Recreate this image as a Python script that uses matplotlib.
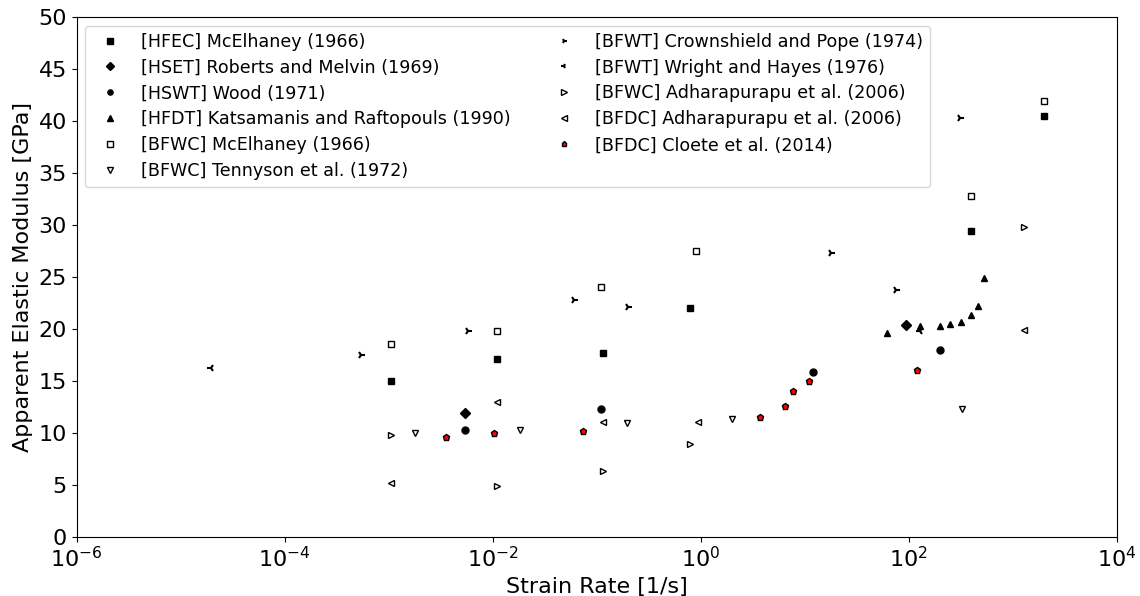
import matplotlib.pyplot as plt

# Strain rate [1/s] and apparent elastic modulus [GPa] per study
hfec_mcelhaney_rate = [1.05e-3, 1.09e-2, 0.116, 0.79, 397, 2000]
hfec_mcelhaney_E = [15.0, 17.1, 17.7, 22.0, 29.4, 40.5]

hset_roberts_rate = [5.46e-3, 94]
hset_roberts_E = [11.9, 20.4]

hswt_wood_rate = [5.46e-3, 0.109, 11.9, 200]
hswt_wood_E = [10.3, 12.3, 15.8, 18.0]

hfdt_katsamanis_rate = [62, 128, 200, 249, 318, 397, 460, 526]
hfdt_katsamanis_E = [19.6, 20.3, 20.3, 20.5, 20.7, 21.3, 22.2, 24.9]

bfwc_mcelhaney_rate = [1.05e-3, 1.09e-2, 0.109, 0.90, 397, 2000]
bfwc_mcelhaney_E = [18.5, 19.8, 24.0, 27.5, 32.8, 41.9]

bfwc_tennyson_rate = [1.79e-3, 1.83e-2, 0.194, 2.0, 323]
bfwc_tennyson_E = [10.0, 10.3, 10.9, 11.3, 12.3]

bfwt_crownshield_rate = [5.4e-4, 5.75e-3, 0.060, 0.20, 17.9, 75, 311]
bfwt_crownshield_E = [17.5, 19.8, 22.8, 22.1, 27.3, 23.7, 40.3]

bfwt_wright_rate = [1.95e-5, 128]
bfwt_wright_E = [16.2, 19.8]

bfwc_adhar_rate = [1.05e-3, 1.09e-2, 0.114, 0.78, 1294]
bfwc_adhar_E = [9.8, 4.9, 6.3, 8.9, 29.8]

bfdc_adhar_rate = [1.05e-3, 1.09e-2, 0.116, 0.95, 1294]
bfdc_adhar_E = [5.2, 13.0, 11.0, 11.0, 19.9]

bfdc_cloete_rate = [3.56e-3, 1.035e-2, 0.0743, 3.69, 6.46, 7.77, 10.9, 119]
bfdc_cloete_E = [9.6, 10.0, 10.2, 11.5, 12.6, 14.0, 15.0, 16.0]

series = [
    (hfec_mcelhaney_rate, hfec_mcelhaney_E, "[HFEC] McElhaney (1966)", "s", "black"),
    (hset_roberts_rate, hset_roberts_E, "[HSET] Roberts and Melvin (1969)", "D", "black"),
    (hswt_wood_rate, hswt_wood_E, "[HSWT] Wood (1971)", "o", "black"),
    (hfdt_katsamanis_rate, hfdt_katsamanis_E, "[HFDT] Katsamanis and Raftopouls (1990)", "^", "black"),
    (bfwc_mcelhaney_rate, bfwc_mcelhaney_E, "[BFWC] McElhaney (1966)", "s", "white"),
    (bfwc_tennyson_rate, bfwc_tennyson_E, "[BFWC] Tennyson et al. (1972)", "v", "white"),
    (bfwt_crownshield_rate, bfwt_crownshield_E, "[BFWT] Crownshield and Pope (1974)", "4", "black"),
    (bfwt_wright_rate, bfwt_wright_E, "[BFWT] Wright and Hayes (1976)", "3", "black"),
    (bfwc_adhar_rate, bfwc_adhar_E, "[BFWC] Adharapurapu et al. (2006)", ">", "white"),
    (bfdc_adhar_rate, bfdc_adhar_E, "[BFDC] Adharapurapu et al. (2006)", "<", "white"),
    (bfdc_cloete_rate, bfdc_cloete_E, "[BFDC] Cloete et al. (2014)", "p", "red"),
]

fig = plt.figure(figsize=(11.4, 5.96), dpi=100)
ax = fig.add_axes([0.0673, 0.0995, 0.9123, 0.872])

for rate, E, label, marker, face in series:
    if marker in ("3", "4"):
        ax.plot(rate, E, linestyle="none", marker=marker, color="black",
                markersize=5.5, markeredgewidth=1.5, label=label)
    else:
        ax.plot(rate, E, linestyle="none", marker=marker, markerfacecolor=face,
                markeredgecolor="black", markeredgewidth=1.0,
                markersize=5, label=label)

ax.set_xscale("log")
ax.set_xlim(1e-6, 1e4)
ax.set_ylim(0, 50)
ax.set_xticks([1e-6, 1e-4, 1e-2, 1e0, 1e2, 1e4])
ax.set_yticks(range(0, 51, 5))
ax.minorticks_off()
ax.tick_params(labelsize=16)
ax.set_xlabel("Strain Rate [1/s]", fontsize=16)
ax.set_ylabel("Apparent Elastic Modulus [GPa]", fontsize=16)

ax.legend(loc="upper left", ncol=2, fontsize=12.6, markerscale=0.75,
          labelspacing=0.45, columnspacing=2.0, borderaxespad=0.5)

fig.savefig("out.png", dpi=100)
